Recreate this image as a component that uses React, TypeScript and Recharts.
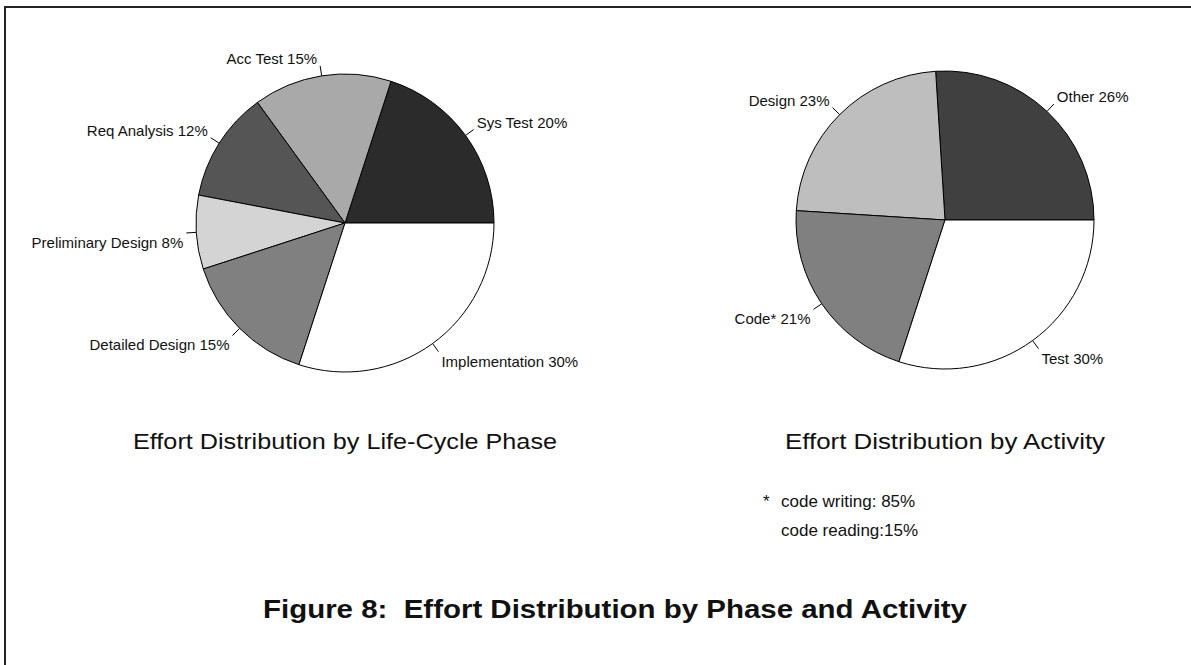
import React from "react";
import { PieChart, Pie, Cell } from "recharts";

const phaseNames = ["Sys Test", "Acc Test", "Req Analysis", "Preliminary Design", "Detailed Design", "Implementation"];
const phaseValues = [20, 15, 12, 8, 15, 30];
const phaseColors = ["#2b2b2b", "#a9a9a9", "#555555", "#d4d4d4", "#808080", "#ffffff"];

const activityNames = ["Other", "Design", "Code*", "Test"];
const activityValues = [26, 23, 21, 30];
const activityColors = ["#404040", "#bebebe", "#808080", "#ffffff"];

const phaseData = phaseNames.map((n, i) => ({ name: n, value: phaseValues[i] }));
const activityData = activityNames.map((n, i) => ({ name: n, value: activityValues[i] }));

const FONT = "'Liberation Sans', Arial, Helvetica, sans-serif";
const RAD = Math.PI / 180;

const renderLabel = (props: any) => {
  const { cx, cy, midAngle, outerRadius, name, value } = props;
  const cos = Math.cos(-midAngle * RAD);
  const sin = Math.sin(-midAngle * RAD);
  const x1 = cx + outerRadius * cos;
  const y1 = cy + outerRadius * sin;
  const x2 = cx + (outerRadius + 10) * cos;
  const y2 = cy + (outerRadius + 10) * sin;
  const right = cos >= 0;
  const upper = sin < 0;
  const tx = x2 + (right ? 3 : -3);
  const ty = upper ? y2 - 2 : y2 + 15;
  return (
    <g>
      <line x1={x1} y1={y1} x2={x2} y2={y2} stroke="#000" strokeWidth={1} />
      <text x={tx} y={ty} textAnchor={right ? "start" : "end"} fontFamily={FONT} fontSize={15} fill="#111">
        {`${name} ${value}%`}
      </text>
    </g>
  );
};

export default function App() {
  return (
    <div style={{ position: "fixed", left: 0, top: 0, width: 1191, height: 665, background: "#fff" }}>
      <PieChart width={1191} height={665} margin={{ top: 0, right: 0, bottom: 0, left: 0 }} style={{ position: "absolute", left: 0, top: 0 }}>
        <Pie
          data={phaseData}
          dataKey="value"
          nameKey="name"
          cx={345}
          cy={223}
          outerRadius={149}
          startAngle={0}
          endAngle={360}
          stroke="#000"
          strokeWidth={1}
          label={renderLabel}
          labelLine={false}
          isAnimationActive={false}
        >
          {phaseData.map((d, i) => (
            <Cell key={d.name} fill={phaseColors[i]} />
          ))}
        </Pie>
        <Pie
          data={activityData}
          dataKey="value"
          nameKey="name"
          cx={945}
          cy={220}
          outerRadius={149}
          startAngle={0}
          endAngle={360}
          stroke="#000"
          strokeWidth={1}
          label={renderLabel}
          labelLine={false}
          isAnimationActive={false}
        >
          {activityData.map((d, i) => (
            <Cell key={d.name} fill={activityColors[i]} />
          ))}
        </Pie>
      </PieChart>
      <svg width={1191} height={665} style={{ position: "absolute", left: 0, top: 0, pointerEvents: "none" }}>
        <line x1={5} y1={7} x2={1191} y2={7} stroke="#222" strokeWidth={2} />
        <line x1={5} y1={6} x2={5} y2={665} stroke="#222" strokeWidth={2} />
        <text x={345} y={449} textAnchor="middle" fontFamily={FONT} fontSize={22} fill="#111" textLength={424} lengthAdjust="spacingAndGlyphs">
          Effort Distribution by Life-Cycle Phase
        </text>
        <text x={945} y={449} textAnchor="middle" fontFamily={FONT} fontSize={22} fill="#111" textLength={320} lengthAdjust="spacingAndGlyphs">
          Effort Distribution by Activity
        </text>
        <text x={763} y={507} fontFamily={FONT} fontSize={17} fill="#111">*</text>
        <text x={781} y={507} fontFamily={FONT} fontSize={17} fill="#111">code writing: 85%</text>
        <text x={781} y={536} fontFamily={FONT} fontSize={17} fill="#111">code reading:15%</text>
        <text x={615} y={618} textAnchor="middle" fontFamily={FONT} fontSize={26} fontWeight="bold" fill="#111" textLength={704} lengthAdjust="spacingAndGlyphs" style={{ whiteSpace: "pre" }}>
          {"Figure 8:  Effort Distribution by Phase and Activity"}
        </text>
      </svg>
    </div>
  );
}
